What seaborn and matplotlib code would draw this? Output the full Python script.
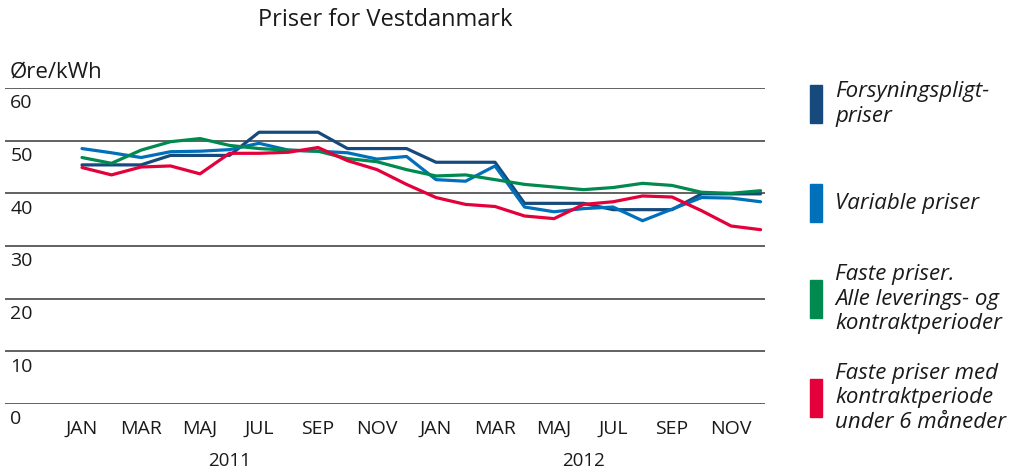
import matplotlib
matplotlib.use("Agg")
import matplotlib.pyplot as plt
import matplotlib.transforms as mtransforms
import pandas as pd
import seaborn as sns

# ------------------------------
# Data (øre/kWh, monthly Jan 2011 - Dec 2012)
# ------------------------------
months = ["JAN", "FEB", "MAR", "APR", "MAJ", "JUN", "JUL", "AUG", "SEP", "OKT", "NOV", "DEC"] * 2
years = ["2011", "2012"]

forsyning = [45.4, 45.4, 45.4, 47.2, 47.2, 47.2, 51.6, 51.6, 51.6, 48.5, 48.5, 48.5,
             45.9, 45.9, 45.9, 38.1, 38.1, 38.1, 36.9, 36.9, 36.9, 39.9, 39.9, 39.9]
variable = [48.5, 47.7, 46.8, 47.9, 48.0, 48.3, 49.5, 48.2, 48.0, 47.7, 46.5, 47.0,
            42.6, 42.3, 45.2, 37.4, 36.5, 37.1, 37.4, 34.8, 37.0, 39.2, 39.1, 38.4]
faste_alle = [46.8, 45.7, 48.2, 49.8, 50.4, 49.1, 48.5, 48.2, 48.0, 46.6, 46.0, 44.5,
              43.3, 43.5, 42.6, 41.7, 41.2, 40.7, 41.1, 41.9, 41.5, 40.2, 40.0, 40.5]
faste_kort = [44.9, 43.5, 45.0, 45.2, 43.7, 47.6, 47.6, 47.8, 48.7, 46.2, 44.5, 41.7,
              39.2, 37.9, 37.5, 35.7, 35.2, 37.9, 38.4, 39.5, 39.3, 36.7, 33.8, 33.1]

series_names = ["Forsyningspligt-\npriser",
                "Variable priser",
                "Faste priser.\nAlle leverings- og\nkontraktperioder",
                "Faste priser med\nkontraktperiode\nunder 6 måneder"]
colors = ["#174A7C", "#0070BA", "#008A4F", "#E4003A"]

df = pd.DataFrame({
    "idx": list(range(len(months))) * 4,
    "pris": forsyning + variable + faste_alle + faste_kort,
    "serie": [s for s in series_names for _ in months],
})

# ------------------------------
# Style
# ------------------------------
sns.set_style("white")
plt.rcParams["font.family"] = ["Open Sans", "DejaVu Sans"]
text_col = "#1a1a1a"

fig = plt.figure(figsize=(10.22, 4.70), dpi=100)
ax = fig.add_axes([5 / 1022, 1 - 404 / 470, 760 / 1022, 316 / 470])

for v in range(0, 70, 10):
    ax.axhline(v, color="#555555", lw=1.3, zorder=1)

sns.lineplot(data=df, x="idx", y="pris", hue="serie", palette=colors,
             hue_order=series_names, lw=2.3, legend=False, ax=ax, zorder=3)

ax.set_xlim(-2.61, 23.15)
ax.set_ylim(0, 60)
ax.set_xticks([])
ax.set_yticks([])
ax.set_xlabel("")
ax.set_ylabel("")
sns.despine(ax=ax, left=True, bottom=True)

# y tick labels sit just below each gridline
ytrans = mtransforms.blended_transform_factory(ax.transAxes, ax.transData)
for v in range(0, 70, 10):
    ax.text(0.007, v - 2.9, str(v), transform=ytrans, ha="left", va="center",
            fontsize=14, color=text_col, clip_on=False)

# month labels (every second month) and years
xtrans = mtransforms.blended_transform_factory(ax.transData, ax.transAxes)
for i in range(0, len(months), 2):
    ax.text(i, -0.08, months[i], transform=xtrans, ha="center", va="center",
            fontsize=14, color=text_col, clip_on=False)
for k, yr in enumerate(years):
    ax.text(5 + 12 * k, -0.18, yr, transform=xtrans, ha="center", va="center",
            fontsize=13.5, color=text_col, clip_on=False)

fig.text(385 / 1022, 1 - 20 / 470, "Priser for Vestdanmark", ha="center", va="center",
         fontsize=17, color=text_col)
fig.text(10 / 1022, 1 - 72 / 470, "Øre/kWh", ha="left", va="center",
         fontsize=16, color=text_col)

# legend: colour bars with italic text to the right
legend_y = [104, 203, 299, 398]
for name, col, yc in zip(series_names, colors, legend_y):
    fig.patches.append(plt.Rectangle((810 / 1022, 1 - (yc + 19) / 470), 12 / 1022, 38 / 470,
                                     transform=fig.transFigure, color=col))
    fig.text(835 / 1022, 1 - yc / 470, name, ha="left", va="center", fontsize=16,
             style="italic", color=text_col, linespacing=1.2)

plt.savefig("out.png", dpi=100)
